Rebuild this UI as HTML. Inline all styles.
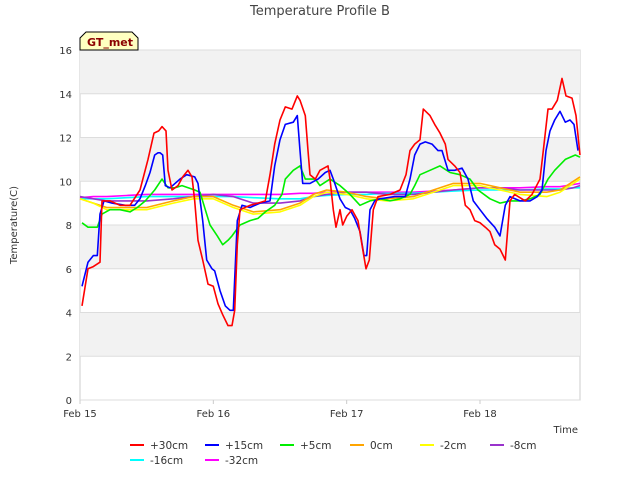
<!DOCTYPE html>
<html><head><meta charset="utf-8"><style>
body{margin:0;background:#fff;font-family:"Liberation Sans","DejaVu Sans",sans-serif}
svg text{font-family:"DejaVu Sans","Liberation Sans",sans-serif}
</style></head><body>
<svg id="c" width="640" height="480" xmlns="http://www.w3.org/2000/svg">
<text x="320" y="15" text-anchor="middle" font-size="13" fill="#444">Temperature Profile B</text>
<g id="bands"></g><g id="grid"></g><g id="ticks"></g><g id="series"></g>
<text transform="translate(17,225) rotate(-90)" text-anchor="middle" font-size="10" fill="#333">Temperature(C)</text>
<text x="578" y="433" text-anchor="end" font-size="10" fill="#333">Time</text>
<g><path d="M80,50 L80,38 L86,32 L132,32 L138,38 L138,50 Z" fill="#ffffc0" stroke="#000" stroke-width="1"/><text x="87" y="46" font-size="11" font-weight="bold" fill="#8b0000">GT_met</text></g>
<g id="legend"></g>
</svg>
<script>
const yTicks=[0,2,4,6,8,10,12,14,16];
const xTickDays=[0,1,2,3];
const xTickLabels=["Feb 15","Feb 16","Feb 17","Feb 18"];
const seriesNames=["+30cm","+15cm","+5cm","0cm","-2cm","-8cm","-16cm","-32cm"];
const seriesColors=["#ff0000","#0000ff","#00ee00","#ffa500","#ffff00","#9932cc","#00ffff","#ff00ff"];
const t30=[0.015,0.06,0.10,0.15,0.165,0.225,0.30,0.375,0.45,0.51,0.555,0.59,0.615,0.645,0.66,0.69,0.735,0.77,0.81,0.84,0.86,0.885,0.92,0.96,1.0,1.035,1.07,1.11,1.14,1.16,1.18,1.20,1.275,1.335,1.39,1.425,1.46,1.50,1.54,1.59,1.63,1.65,1.69,1.71,1.725,1.765,1.80,1.86,1.875,1.90,1.92,1.95,1.97,2.0,2.04,2.085,2.12,2.145,2.17,2.20,2.235,2.325,2.40,2.445,2.475,2.51,2.55,2.575,2.625,2.66,2.70,2.74,2.76,2.81,2.85,2.89,2.925,2.96,3.0,3.04,3.075,3.11,3.15,3.19,3.225,3.26,3.34,3.39,3.45,3.475,3.51,3.54,3.58,3.615,3.645,3.69,3.72,3.75];
const v30=[4.3,6.0,6.1,6.3,9.1,9.1,8.9,8.9,9.6,11.0,12.2,12.3,12.5,12.3,10.5,9.6,9.8,10.2,10.5,10.2,9.1,7.3,6.4,5.3,5.2,4.4,3.9,3.4,3.4,4.1,7.1,8.7,8.9,9.0,9.1,10.3,11.7,12.8,13.4,13.3,13.9,13.7,13.0,11.4,10.3,10.1,10.5,10.7,10.1,8.7,7.9,8.7,8.0,8.4,8.7,8.2,6.9,6.0,6.4,8.7,9.3,9.4,9.6,10.3,11.4,11.7,11.9,13.3,13.0,12.6,12.2,11.7,11.0,10.7,10.4,8.9,8.7,8.2,8.1,7.9,7.7,7.1,6.9,6.4,9.1,9.4,9.1,9.4,10.1,11.4,13.3,13.3,13.7,14.7,13.9,13.8,13.0,11.2];
const t15=[0.015,0.06,0.10,0.13,0.15,0.18,0.24,0.34,0.41,0.45,0.49,0.525,0.56,0.585,0.60,0.62,0.64,0.675,0.75,0.80,0.86,0.885,0.92,0.95,0.99,1.01,1.05,1.09,1.125,1.15,1.18,1.215,1.275,1.35,1.425,1.46,1.50,1.54,1.60,1.63,1.65,1.67,1.725,1.785,1.84,1.875,1.90,1.95,1.99,2.025,2.06,2.10,2.13,2.15,2.175,2.21,2.25,2.36,2.44,2.475,2.51,2.55,2.59,2.64,2.685,2.715,2.76,2.81,2.865,2.91,2.95,3.0,3.05,3.11,3.15,3.19,3.225,3.30,3.375,3.43,3.465,3.495,3.525,3.56,3.60,3.64,3.675,3.705,3.735];
const v15=[5.2,6.3,6.6,6.6,8.5,9.1,9.0,8.9,8.9,9.2,9.8,10.4,11.2,11.3,11.3,11.2,9.8,9.7,10.1,10.3,10.2,9.9,8.2,6.4,6.0,5.9,5.0,4.3,4.1,4.1,8.2,8.9,8.8,9.0,9.1,10.7,11.9,12.6,12.7,13.0,11.4,9.9,9.9,10.1,10.4,10.5,10.1,9.2,8.8,8.7,8.3,7.7,6.6,6.6,8.7,9.1,9.2,9.3,9.3,10.1,11.2,11.7,11.8,11.7,11.4,11.4,10.5,10.5,10.6,10.1,9.1,8.7,8.3,7.9,7.5,8.9,9.3,9.1,9.1,9.3,9.6,11.4,12.3,12.8,13.2,12.7,12.8,12.6,11.4];
const t5=[0.015,0.06,0.13,0.165,0.225,0.30,0.375,0.43,0.49,0.56,0.615,0.66,0.71,0.765,0.86,0.90,0.94,0.975,1.03,1.07,1.11,1.14,1.20,1.275,1.335,1.39,1.46,1.515,1.54,1.60,1.65,1.69,1.765,1.80,1.875,1.95,2.025,2.10,2.175,2.25,2.325,2.40,2.475,2.51,2.55,2.625,2.70,2.775,2.85,2.925,2.985,3.075,3.15,3.225,3.30,3.375,3.45,3.51,3.56,3.64,3.715,3.75];
const v5=[8.1,7.9,7.9,8.5,8.7,8.7,8.6,8.8,9.1,9.6,10.1,9.7,9.7,9.8,9.6,9.5,8.7,8.0,7.5,7.1,7.3,7.5,8.0,8.2,8.3,8.6,8.9,9.4,10.1,10.5,10.7,10.1,10.1,9.8,10.1,9.8,9.4,8.9,9.1,9.2,9.1,9.2,9.4,9.8,10.3,10.5,10.7,10.4,10.3,10.1,9.6,9.2,9.0,9.1,9.1,9.2,9.4,10.1,10.5,11.0,11.2,11.1];
const tSmooth=[0,0.1,0.2,0.35,0.5,0.7,0.85,1.0,1.15,1.3,1.5,1.65,1.75,1.85,2.0,2.15,2.3,2.5,2.65,2.8,3.0,3.15,3.3,3.5,3.6,3.7,3.75];
const v0=[9.2,9.0,8.8,8.8,8.8,9.1,9.3,9.3,8.9,8.6,8.7,9.0,9.4,9.6,9.5,9.3,9.2,9.3,9.6,9.9,9.9,9.7,9.5,9.5,9.6,10.0,10.2];
const vm2=[9.2,9.0,8.7,8.7,8.7,9.0,9.2,9.2,8.8,8.5,8.6,8.9,9.3,9.5,9.4,9.2,9.1,9.2,9.5,9.8,9.8,9.6,9.4,9.3,9.5,9.9,10.1];
const vm8=[9.3,9.2,9.1,9.1,9.1,9.2,9.3,9.4,9.3,9.0,9.0,9.1,9.3,9.4,9.5,9.5,9.4,9.4,9.5,9.6,9.7,9.7,9.6,9.6,9.6,9.7,9.8];
const vm16=[9.2,9.2,9.2,9.25,9.3,9.3,9.3,9.3,9.3,9.25,9.2,9.2,9.3,9.35,9.4,9.4,9.45,9.45,9.5,9.55,9.6,9.6,9.6,9.65,9.65,9.7,9.7];
const vm32=[9.25,9.3,9.3,9.35,9.4,9.4,9.4,9.4,9.4,9.4,9.4,9.45,9.45,9.5,9.5,9.5,9.5,9.5,9.55,9.6,9.7,9.7,9.7,9.75,9.75,9.85,9.9];
const seriesT=[t30,t15,t5,tSmooth,tSmooth,tSmooth,tSmooth,tSmooth];
const seriesV=[v30,v15,v5,v0,vm2,vm8,vm16,vm32];
const drawOrder=[7,6,5,3,4,2,1,0];
const X0=80,X1=580,Y0=400,Y1=50,DMAX=3.75,VMAX=16;
const xs=d=>X0+(X1-X0)*d/DMAX;
const ys=v=>Y0-(Y0-Y1)*v/VMAX;
const NS="http://www.w3.org/2000/svg";
function mk(tag,attrs,parent){const e=document.createElementNS(NS,tag);for(const k in attrs)e.setAttribute(k,attrs[k]);parent.appendChild(e);return e;}
const bands=document.getElementById('bands'),grid=document.getElementById('grid'),ticks=document.getElementById('ticks'),ser=document.getElementById('series'),leg=document.getElementById('legend');
const bg=mk('rect',{x:X0,y:Y1,width:X1-X0,height:Y0-Y1,fill:'#fff',stroke:'#ccc'},bands);


for(let i=0;i<yTicks.length-1;i++){if(i%2===1){const r=mk('rect',{x:X0,y:ys(yTicks[i+1]),width:X1-X0,height:ys(yTicks[i])-ys(yTicks[i+1]),fill:'#f2f2f2'},bands);

}}
yTicks.forEach(v=>{const l=mk('line',{x1:X0,x2:X1,y1:ys(v),y2:ys(v),stroke:'#ddd'},grid);


const t=mk('text',{x:72,y:ys(v)+4,'text-anchor':'end','font-size':10,fill:'#333'},ticks);t.textContent=v;

});
xTickDays.forEach((d,i)=>{const t=mk('text',{x:xs(d),y:417,'text-anchor':'middle','font-size':10,fill:'#333'},ticks);t.textContent=xTickLabels[i];


const l=mk('line',{x1:xs(d),x2:xs(d),y1:Y0,y2:Y0+4,stroke:'#ccc'},ticks);

});
drawOrder.forEach(i=>{const T=seriesT[i],V=seriesV[i];const pts=T.map((d,j)=>xs(d).toFixed(1)+','+ys(V[j]).toFixed(1)).join(' ');
const p=mk('polyline',{points:pts,fill:'none',stroke:seriesColors[i],'stroke-width':1.6,'stroke-linejoin':'round'},ser);

});
const legX=[130,205,280,350,420,490,130,205],legY=[445,445,445,445,445,445,460,460];
seriesNames.forEach((n,i)=>{const g=mk('g',{},leg);


mk('line',{x1:legX[i],x2:legX[i]+14,y1:legY[i],y2:legY[i],stroke:seriesColors[i],'stroke-width':2},g);
const t=mk('text',{x:legX[i]+20,y:legY[i]+4,'font-size':10.5,fill:'#333'},g);t.textContent=n;});
</script>
</body></html>
